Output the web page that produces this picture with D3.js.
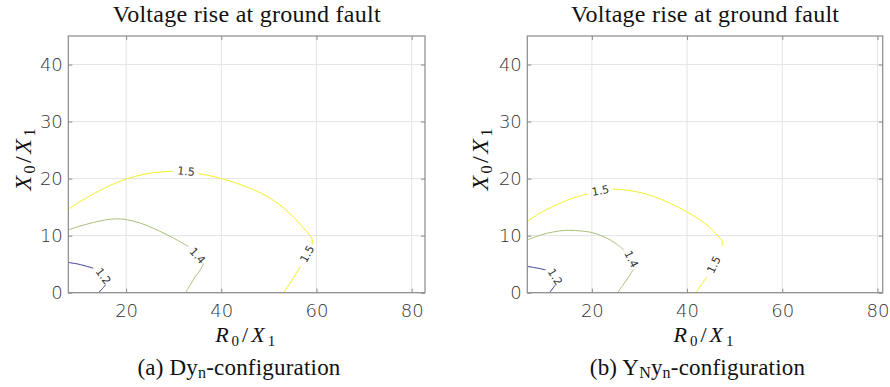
<!DOCTYPE html>
<html>
<head>
<meta charset="utf-8">
<script src="https://cdn.jsdelivr.net/npm/d3@7"></script>
<style>
  body { margin: 0; background: #fff; }
  svg { display: block; }
</style>
</head>
<body>
<div id="chart"></div>
<script>
// contour levels and their colours
const levels = [1.2, 1.4, 1.5];
const levelColors = ['#3d3b98', '#a9c07b', '#f4f224'];

const xTicks = [20, 40, 60, 80];
const yTicks = [0, 10, 20, 30, 40];

// (a) Dyn: contour points [R0/X1, X0/X1], null = gap for the inline label
const dynLevel12 = [[7.85, 5.3], [10, 5.0], [13.1, 4.3], null, [15.7, 1.4], [15.0, 0.7], [14.2, 0]];
const dynLevel14 = [[7.85, 11.0], [10, 11.6], [13.1, 12.3], [15.6, 12.75], [18, 12.95], [20.1, 12.8], [23, 12.2],
  [25.7, 11.3], [28.5, 10.2], [31, 9.1], [33.1, 8.1], null, [36.3, 5.2], [35.6, 4.0], [34.5, 2.8], [33.5, 1.4], [32.5, 0]];
const dynLevel15 = [[7.85, 14.65], [10.5, 16.05], [13.1, 17.3], [16.5, 18.75], [20.1, 19.95], [25, 20.95], [29.9, 21.3],
  null, [35.2, 20.9], [40.1, 20.0], [45, 18.65], [49.6, 16.9], [53, 14.9], [55.6, 12.9], [57.6, 11.0], [58.8, 9.9],
  [59.1, 9.3], [59.1, 8.4], null, [56.6, 4.6], [55, 2.4], [53.1, 0]];
const dynLabels = [[1.2, 15.2, 2.9], [1.4, 35.0, 6.5], [1.5, 32.6, 21.3], [1.5, 58.0, 6.8]];

// (b) YNyn
const ynynLevel12 = [[6.44, 4.6], [8, 4.4], [10.3, 4.0], null, [12.3, 1.35], [11.7, 0.65], [11.1, 0]];
const ynynLevel14 = [[6.44, 9.25], [8.5, 9.9], [10.5, 10.4], [13, 10.8], [15.05, 10.95], [18, 10.8], [20, 10.55],
  [22, 10.0], [23.85, 9.25], [25.4, 8.4], [26.7, 7.5], null, [28.7, 4.1], [27.6, 2.6], [26.5, 1.3], [25.4, 0]];
const ynynLevel15 = [[6.44, 12.5], [9, 13.9], [11.9, 15.15], [15.4, 16.4], [19.2, 17.35], null, [24.2, 18.15],
  [28, 17.9], [32.9, 16.9], [39.9, 14.2], [44.55, 11.6], [46.4, 10.0], [47.4, 9.0], [47.3, 8.2], null,
  [44.2, 2.8], [43, 1.4], [41.9, 0]];
const ynynLabels = [[1.2, 12.3, 2.8], [1.4, 28.3, 5.9], [1.5, 21.8, 17.9], [1.5, 45.6, 4.9]];

const width = 890;
const height = 387;
const yDomain = [0, 45];

const panels = [
  {left: 68.3, right: 425, xDomain: [7.85, 82.8], contours: [dynLevel12, dynLevel14, dynLevel15],
    labels: dynLabels, yLabelX: 31, caption: 'a', captionX: 239},
  {left: 527.3, right: 882.7, xDomain: [6.44, 81.1], contours: [ynynLevel12, ynynLevel14, ynynLevel15],
    labels: ynynLabels, yLabelX: 488, caption: 'b', captionX: 697.5}
];
const plotTop = 36;
const plotBottom = 292.7;

const svg = d3.select('#chart').append('svg')
  .attr('width', width)
  .attr('height', height);

const serif = '"Liberation Serif", "Times New Roman", serif';
const sans = '"DejaVu Sans", "Liberation Sans", sans-serif';

function drawPanel(p) {
  const x = d3.scaleLinear().domain(p.xDomain).range([p.left, p.right]);
  const y = d3.scaleLinear().domain(yDomain).range([plotBottom, plotTop]);
  const g = svg.append('g');

  // grid
  g.append('g').selectAll('line').data(xTicks).enter().append('line')
    .attr('x1', d => x(d)).attr('x2', d => x(d))
    .attr('y1', plotTop).attr('y2', plotBottom)
    .attr('stroke', '#e4e4e4').attr('stroke-width', 1);
  g.append('g').selectAll('line').data(yTicks).enter().append('line')
    .attr('x1', p.left).attr('x2', p.right)
    .attr('y1', d => y(d)).attr('y2', d => y(d))
    .attr('stroke', '#e4e4e4').attr('stroke-width', 1);

  // contour lines
  const line = d3.line()
    .defined(d => d !== null)
    .x(d => x(d[0]))
    .y(d => y(d[1]))
    .curve(d3.curveCatmullRom);
  p.contours.forEach(function(pts, i) {
    g.append('path')
      .datum(pts)
      .attr('d', line)
      .attr('fill', 'none')
      .attr('stroke', levelColors[i])
      .attr('stroke-width', 1);
  });

  // inline labels, rotated along the gap in the line
  p.labels.forEach(function(lab) {
    const pts = p.contours[levels.indexOf(lab[0])];
    let best = null;
    let bestDist = Infinity;
    for (let i = 1; i < pts.length - 1; i++) {
      if (pts[i] === null) {
        const a = pts[i - 1], b = pts[i + 1];
        const mx = (a[0] + b[0]) / 2, my = (a[1] + b[1]) / 2;
        const dist = Math.hypot(mx - lab[1], my - lab[2]);
        if (dist < bestDist) { bestDist = dist; best = [a, b]; }
      }
    }
    let angle = Math.atan2(y(best[1][1]) - y(best[0][1]), x(best[1][0]) - x(best[0][0])) * 180 / Math.PI;
    if (angle > 90) angle -= 180;
    if (angle < -90) angle += 180;
    g.append('text')
      .attr('transform', 'translate(' + x(lab[1]) + ',' + y(lab[2]) + ') rotate(' + angle + ')')
      .attr('text-anchor', 'middle')
      .attr('dy', '0.35em')
      .attr('font-family', sans)
      .attr('font-size', 11)
      .attr('fill', '#333')
      .text(lab[0].toFixed(1));
  });

  // axes, ticks pointing inwards on all four sides
  const axisColor = '#8a8a8a';
  const bottomAxis = g.append('g').attr('transform', 'translate(0,' + plotBottom + ')')
    .call(d3.axisBottom(x).tickValues(xTicks).tickSize(-4).tickPadding(12));
  const leftAxis = g.append('g').attr('transform', 'translate(' + p.left + ',0)')
    .call(d3.axisLeft(y).tickValues(yTicks).tickSize(-4).tickPadding(5.5));
  const topAxis = g.append('g').attr('transform', 'translate(0,' + plotTop + ')')
    .call(d3.axisTop(x).tickValues(xTicks).tickSize(-4).tickFormat(''));
  const rightAxis = g.append('g').attr('transform', 'translate(' + p.right + ',0)')
    .call(d3.axisRight(y).tickValues(yTicks).tickSize(-4).tickFormat(''));
  [bottomAxis, leftAxis, topAxis, rightAxis].forEach(function(a) {
    a.select('.domain').remove();
    a.selectAll('line').attr('stroke', axisColor);
    a.selectAll('text')
      .attr('font-family', sans)
      .attr('font-size', 18)
      .attr('font-weight', 300)
      .attr('fill', '#333');
  });
  g.append('rect')
    .attr('x', p.left).attr('y', plotTop)
    .attr('width', p.right - p.left).attr('height', plotBottom - plotTop)
    .attr('fill', 'none')
    .attr('stroke', axisColor)
    .attr('stroke-width', 1.2);

  const cx = (p.left + p.right) / 2;

  // title
  g.append('text')
    .attr('x', cx).attr('y', 22)
    .attr('text-anchor', 'middle')
    .attr('font-family', serif)
    .attr('font-size', 24)
    .attr('textLength', 268)
    .attr('lengthAdjust', 'spacing')
    .attr('fill', '#111')
    .text('Voltage rise at ground fault');

  // x label R0/X1
  const xl = g.append('text')
    .attr('x', cx).attr('y', 342)
    .attr('text-anchor', 'middle')
    .attr('font-family', serif)
    .attr('font-size', 22)
    .attr('letter-spacing', 3)
    .attr('fill', '#111');
  xl.append('tspan').attr('font-style', 'italic').text('R');
  xl.append('tspan').attr('font-size', 15).attr('dy', 4).text('0');
  xl.append('tspan').attr('dy', -4).text('/');
  xl.append('tspan').attr('font-style', 'italic').text('X');
  xl.append('tspan').attr('font-size', 15).attr('dy', 4).text('1');

  // y label X0/X1
  const yl = g.append('text')
    .attr('transform', 'translate(' + p.yLabelX + ',' + ((plotTop + plotBottom) / 2 - 6) + ') rotate(-90)')
    .attr('text-anchor', 'middle')
    .attr('font-family', serif)
    .attr('font-size', 24)
    .attr('letter-spacing', 2.5)
    .attr('fill', '#111');
  yl.append('tspan').attr('font-style', 'italic').text('X');
  yl.append('tspan').attr('font-size', 16).attr('dy', 4).text('0');
  yl.append('tspan').attr('dy', -4).text('/');
  yl.append('tspan').attr('font-style', 'italic').text('X');
  yl.append('tspan').attr('font-size', 16).attr('dy', 4).text('1');

  // caption
  const cap = g.append('text')
    .attr('x', p.captionX).attr('y', 375)
    .attr('text-anchor', 'middle')
    .attr('font-family', serif)
    .attr('font-size', 23)
    .attr('letter-spacing', 0.2)
    .attr('fill', '#111');
  if (p.caption === 'a') {
    cap.append('tspan').text('(a) Dy');
    cap.append('tspan').attr('font-size', 16).attr('dy', 3).text('n');
    cap.append('tspan').attr('dy', -3).text('-configuration');
  } else {
    cap.append('tspan').text('(b) Y');
    cap.append('tspan').attr('font-size', 16).attr('dy', 3).text('N');
    cap.append('tspan').attr('dy', -3).text('y');
    cap.append('tspan').attr('font-size', 16).attr('dy', 3).text('n');
    cap.append('tspan').attr('dy', -3).text('-configuration');
  }
}

panels.forEach(drawPanel);
</script>
</body>
</html>
